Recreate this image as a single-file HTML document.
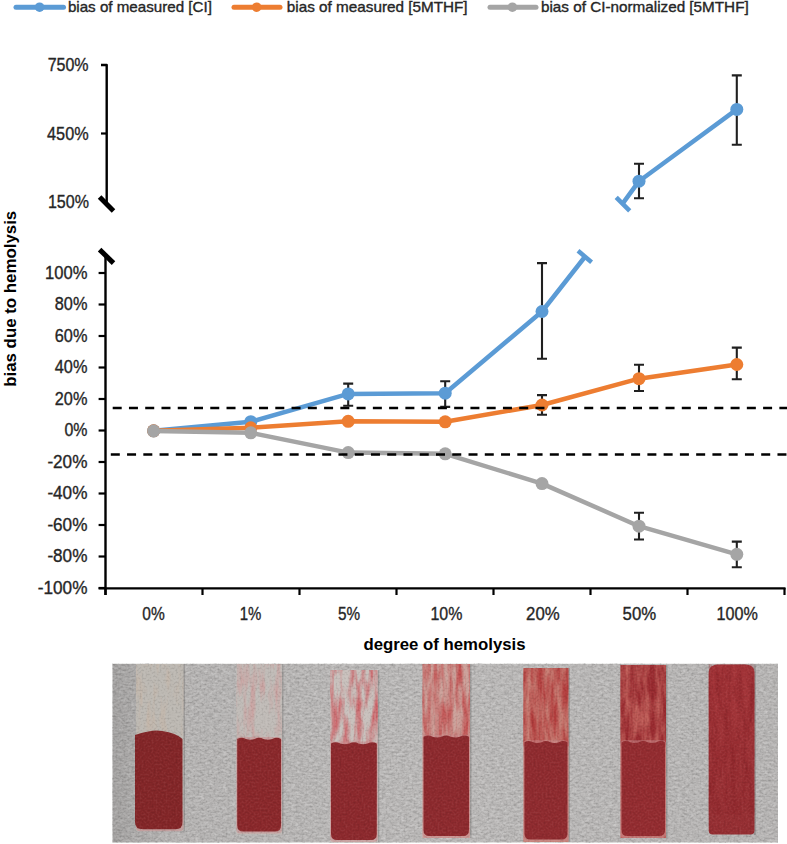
<!DOCTYPE html>
<html><head><meta charset="utf-8"><style>
html,body{margin:0;padding:0;background:#fff;}
svg{display:block;font-family:"Liberation Sans",sans-serif;}
</style></head><body>
<svg width="787" height="844" viewBox="0 0 787 844">
<rect width="787" height="844" fill="#fff"/>
<defs><filter color-interpolation-filters="sRGB" id="tex1" x="0" y="0" width="100%" height="100%"><feTurbulence type="fractalNoise" baseFrequency="0.22 0.45" numOctaves="3" seed="7"/><feColorMatrix type="matrix" values="0 0 0 0 1  0 0 0 0 1  0 0 0 0 1  2.2 0 0 0 -1.0"/></filter><filter color-interpolation-filters="sRGB" id="tex2" x="0" y="0" width="100%" height="100%"><feTurbulence type="fractalNoise" baseFrequency="0.22 0.45" numOctaves="3" seed="7"/><feColorMatrix type="matrix" values="0 0 0 0 0.3  0 0 0 0 0.3  0 0 0 0 0.3  -2.2 0 0 0 1.0"/></filter><filter color-interpolation-filters="sRGB" id="grain1" x="0" y="0" width="100%" height="100%"><feTurbulence type="fractalNoise" baseFrequency="0.5" numOctaves="2" seed="11"/><feColorMatrix type="matrix" values="0 0 0 0 1  0 0 0 0 1  0 0 0 0 1  2.5 0 0 0 -1.2"/></filter><filter color-interpolation-filters="sRGB" id="grain2" x="0" y="0" width="100%" height="100%"><feTurbulence type="fractalNoise" baseFrequency="0.5" numOctaves="2" seed="11"/><feColorMatrix type="matrix" values="0 0 0 0 0  0 0 0 0 0  0 0 0 0 0  -2.5 0 0 0 1.3"/></filter><filter color-interpolation-filters="sRGB" id="soft"><feGaussianBlur stdDeviation="0.7"/></filter><linearGradient id="g7" x1="0" y1="0" x2="0" y2="1"><stop offset="0" stop-color="#a8383c"/><stop offset="1" stop-color="#952f33"/></linearGradient><linearGradient id="vign" x1="0" y1="0" x2="1" y2="0"><stop offset="0" stop-color="#000" stop-opacity="0.12"/><stop offset="0.08" stop-color="#000" stop-opacity="0.03"/><stop offset="0.5" stop-color="#000" stop-opacity="0"/><stop offset="1" stop-color="#000" stop-opacity="0.02"/></linearGradient>
<filter color-interpolation-filters="sRGB" id="v0" x="0" y="0" width="100%" height="100%"><feTurbulence type="fractalNoise" baseFrequency="0.16 0.03" numOctaves="3" seed="1"/><feColorMatrix type="matrix" values="0 0 0 0 0.8  0 0 0 0 0.7  0 0 0 0 0.62  1.2 0 0 0 -0.55"/><feComposite in2="SourceGraphic" operator="in"/></filter>
<filter color-interpolation-filters="sRGB" id="v1" x="0" y="0" width="100%" height="100%"><feTurbulence type="fractalNoise" baseFrequency="0.16 0.03" numOctaves="3" seed="6"/><feColorMatrix type="matrix" values="0 0 0 0 0.82  0 0 0 0 0.56  0 0 0 0 0.56  1.6 0 0 0 -0.7"/><feComposite in2="SourceGraphic" operator="in"/></filter>
<filter color-interpolation-filters="sRGB" id="v2" x="0" y="0" width="100%" height="100%"><feTurbulence type="fractalNoise" baseFrequency="0.16 0.03" numOctaves="3" seed="11"/><feColorMatrix type="matrix" values="0 0 0 0 0.8  0 0 0 0 0.38  0 0 0 0 0.4  2.2 0 0 0 -0.8"/><feComposite in2="SourceGraphic" operator="in"/></filter>
<filter color-interpolation-filters="sRGB" id="v3" x="0" y="0" width="100%" height="100%"><feTurbulence type="fractalNoise" baseFrequency="0.16 0.03" numOctaves="3" seed="16"/><feColorMatrix type="matrix" values="0 0 0 0 0.76  0 0 0 0 0.32  0 0 0 0 0.32  2.2 0 0 0 -0.7"/><feComposite in2="SourceGraphic" operator="in"/></filter>
<filter color-interpolation-filters="sRGB" id="v4" x="0" y="0" width="100%" height="100%"><feTurbulence type="fractalNoise" baseFrequency="0.16 0.03" numOctaves="3" seed="21"/><feColorMatrix type="matrix" values="0 0 0 0 0.7  0 0 0 0 0.24  0 0 0 0 0.24  2.2 0 0 0 -0.6"/><feComposite in2="SourceGraphic" operator="in"/></filter>
<filter color-interpolation-filters="sRGB" id="v5" x="0" y="0" width="100%" height="100%"><feTurbulence type="fractalNoise" baseFrequency="0.16 0.03" numOctaves="3" seed="26"/><feColorMatrix type="matrix" values="0 0 0 0 0.6  0 0 0 0 0.17  0 0 0 0 0.19  2.2 0 0 0 -0.5"/><feComposite in2="SourceGraphic" operator="in"/></filter>
<filter color-interpolation-filters="sRGB" id="v6" x="0" y="0" width="100%" height="100%"><feTurbulence type="fractalNoise" baseFrequency="0.16 0.03" numOctaves="3" seed="31"/><feColorMatrix type="matrix" values="0 0 0 0 0.55  0 0 0 0 0.14  0 0 0 0 0.16  1.6 0 0 0 -0.55"/><feComposite in2="SourceGraphic" operator="in"/></filter>
</defs>
<rect x="112.5" y="663.8" width="665.5" height="178.70000000000005" fill="#b9b7b6"/>
<rect x="112.5" y="663.8" width="665.5" height="178.70000000000005" filter="url(#tex1)" opacity="0.3"/>
<rect x="112.5" y="663.8" width="665.5" height="178.70000000000005" filter="url(#tex2)" opacity="0.25"/>
<rect x="112.5" y="663.8" width="665.5" height="178.70000000000005" fill="url(#vign)"/>
<g filter="url(#soft)">
<rect x="183.0" y="664" width="2" height="167" fill="#7f7d7b" opacity="0.5"/>
<rect x="136" y="664" width="47.5" height="167" fill="#bdb9b3"/>
<rect x="136" y="664" width="47.5" height="72" filter="url(#v0)"/>
<rect x="136" y="809.2" width="47.5" height="22" rx="4" fill="#c98a8c" opacity="0.55"/>
<path d="M135,735 Q152.625,729 162.125,731 Q176.375,733 182.5,739 V822.2 Q182.5,829.2 175.5,829.2 H143 Q135,829.2 135,822.2 Z" fill="#842729"/>
<rect x="281.5" y="664" width="2" height="170.5" fill="#7f7d7b" opacity="0.5"/>
<rect x="236.2" y="664" width="45.80000000000001" height="170.5" fill="#c1bcb8"/>
<rect x="236.2" y="664" width="45.80000000000001" height="79" filter="url(#v1)"/>
<rect x="236.2" y="737" width="45.80000000000001" height="96.60000000000002" rx="4" fill="#c98a8c" opacity="0.55"/>
<path d="M237.2,739 Q241.6,736.5 246.0,739 Q250.3,740.5 254.7,739 Q259.1,736.5 263.5,739 Q267.9,740.5 272.2,739 Q276.6,736.5 281.0,739 V825.6 Q281.0,831.6 275.0,831.6 H243.2 Q237.2,831.6 237.2,825.6 Z" fill="#8b292c"/>
<rect x="377.3" y="670" width="2" height="172.5" fill="#7f7d7b" opacity="0.5"/>
<rect x="330" y="670" width="47.80000000000001" height="172.5" fill="#c9c1bd"/>
<rect x="330" y="670" width="47.80000000000001" height="77.39999999999998" filter="url(#v2)"/>
<rect x="330" y="741.4" width="47.80000000000001" height="100.60000000000002" rx="4" fill="#c98a8c" opacity="0.55"/>
<path d="M331,743.4 Q335.6,740.9 340.2,743.4 Q344.7,744.9 349.3,743.4 Q353.9,740.9 358.5,743.4 Q363.1,744.9 367.6,743.4 Q372.2,740.9 376.8,743.4 V834 Q376.8,840 370.8,840 H337 Q331,840 331,834 Z" fill="#8d2a2e"/>
<rect x="469.5" y="664" width="2" height="174" fill="#7f7d7b" opacity="0.5"/>
<rect x="422.5" y="664" width="47.5" height="174" fill="#cca29b"/>
<rect x="422.5" y="664" width="47.5" height="76.79999999999995" filter="url(#v3)"/>
<rect x="422.5" y="734.8" width="47.5" height="103.20000000000005" rx="4" fill="#c98a8c" opacity="0.55"/>
<path d="M423.5,736.8 Q428.1,734.3 432.6,736.8 Q437.1,738.3 441.7,736.8 Q446.2,734.3 450.8,736.8 Q455.4,738.3 459.9,736.8 Q464.4,734.3 469.0,736.8 V830 Q469.0,836 463.0,836 H429.5 Q423.5,836 423.5,830 Z" fill="#8e2b2f"/>
<rect x="568.0" y="668" width="2" height="174" fill="#7f7d7b" opacity="0.5"/>
<rect x="523.4" y="668" width="45.10000000000002" height="174" fill="#c88076"/>
<rect x="523.4" y="668" width="45.10000000000002" height="78.20000000000005" filter="url(#v4)"/>
<rect x="523.4" y="740.2" width="45.10000000000002" height="101.39999999999998" rx="4" fill="#c98a8c" opacity="0.55"/>
<path d="M524.4,742.2 Q528.7,739.7 533.0,742.2 Q537.3,743.7 541.6,742.2 Q546.0,739.7 550.3,742.2 Q554.6,743.7 558.9,742.2 Q563.2,739.7 567.5,742.2 V833.6 Q567.5,839.6 561.5,839.6 H530.4 Q524.4,839.6 524.4,833.6 Z" fill="#902c30"/>
<rect x="665.5" y="665" width="2" height="173" fill="#7f7d7b" opacity="0.5"/>
<rect x="620.5" y="665" width="45.5" height="173" fill="#c2625c"/>
<rect x="620.5" y="665" width="45.5" height="81.20000000000005" filter="url(#v5)"/>
<rect x="620.5" y="740.2" width="45.5" height="97.79999999999995" rx="4" fill="#c98a8c" opacity="0.55"/>
<path d="M621.5,742.2 Q625.9,739.7 630.2,742.2 Q634.5,743.7 638.9,742.2 Q643.2,739.7 647.6,742.2 Q652.0,743.7 656.3,742.2 Q660.6,739.7 665.0,742.2 V830 Q665.0,836 659.0,836 H627.5 Q621.5,836 621.5,830 Z" fill="#942d31"/>
<rect x="754.0" y="664.4" width="2" height="170.60000000000002" fill="#7f7d7b" opacity="0.5"/>
<path d="M708.7,672.4 Q708.7,664.4 718.7,664.4 H744.5 Q754.5,664.4 754.5,672.4 V830.4 Q754.5,834.4 750.5,834.4 H712.7 Q708.7,834.4 708.7,830.4 Z" fill="url(#g7)"/>
<rect x="708.7" y="664.4" width="45.799999999999955" height="150.0" filter="url(#v6)"/>
</g>
<rect x="112.5" y="663.8" width="665.5" height="178.70000000000005" filter="url(#grain1)" opacity="0.07"/>
<rect x="112.5" y="663.8" width="665.5" height="178.70000000000005" filter="url(#grain2)" opacity="0.12"/>
<line x1="16" y1="7.2" x2="63.5" y2="7.2" stroke="#5B9BD5" stroke-width="5" stroke-linecap="round"/>
<circle cx="39.6" cy="7.2" r="4.8" fill="#5B9BD5"/>
<text x="67.9" y="12" font-size="14.2" fill="#262626" stroke="#262626" stroke-width="0.35" textLength="144.0" lengthAdjust="spacingAndGlyphs">bias of measured [CI]</text>
<line x1="234" y1="7.2" x2="280" y2="7.2" stroke="#ED7D31" stroke-width="5" stroke-linecap="round"/>
<circle cx="256.7" cy="7.2" r="4.8" fill="#ED7D31"/>
<text x="286.8" y="12" font-size="14.2" fill="#262626" stroke="#262626" stroke-width="0.35" textLength="180.8" lengthAdjust="spacingAndGlyphs">bias of measured [5MTHF]</text>
<line x1="490" y1="7.2" x2="536" y2="7.2" stroke="#A5A5A5" stroke-width="5" stroke-linecap="round"/>
<circle cx="512.4" cy="7.2" r="4.8" fill="#A5A5A5"/>
<text x="541" y="12" font-size="14.2" fill="#262626" stroke="#262626" stroke-width="0.35" textLength="207.70000000000005" lengthAdjust="spacingAndGlyphs">bias of CI-normalized [5MTHF]</text>
<path d="M101,65 H106.7 V204" fill="none" stroke="#000" stroke-width="2.4" stroke-linejoin="round"/>
<line x1="101" y1="133.5" x2="106.7" y2="133.5" stroke="#000" stroke-width="2.2"/>
<line x1="99.6" y1="197" x2="113.5" y2="210.9" stroke="#000" stroke-width="5"/>
<line x1="99.6" y1="249.6" x2="113.5" y2="263.1" stroke="#000" stroke-width="5"/>
<text x="88.6" y="71.1" font-size="18.3" fill="#262626" stroke="#262626" stroke-width="0.35" text-anchor="end" textLength="40.9" lengthAdjust="spacingAndGlyphs">750%</text>
<text x="88.6" y="139.5" font-size="18.3" fill="#262626" stroke="#262626" stroke-width="0.35" text-anchor="end" textLength="41.5" lengthAdjust="spacingAndGlyphs">450%</text>
<text x="88.9" y="207.7" font-size="18.3" fill="#262626" stroke="#262626" stroke-width="0.35" text-anchor="end" textLength="41" lengthAdjust="spacingAndGlyphs">150%</text>
<line x1="105.5" y1="257" x2="105.5" y2="595" stroke="#000" stroke-width="2.4"/>
<line x1="98.6" y1="588.3" x2="785.5" y2="588.3" stroke="#000" stroke-width="2.2"/>
<line x1="98.6" y1="273.0" x2="105.5" y2="273.0" stroke="#000" stroke-width="2.2"/>
<text x="87.4" y="278.9" font-size="18.3" fill="#262626" stroke="#262626" stroke-width="0.35" text-anchor="end" textLength="42.4" lengthAdjust="spacingAndGlyphs">100%</text>
<line x1="98.6" y1="304.5" x2="105.5" y2="304.5" stroke="#000" stroke-width="2.2"/>
<text x="87.4" y="310.4" font-size="18.3" fill="#262626" stroke="#262626" stroke-width="0.35" text-anchor="end" textLength="32.6" lengthAdjust="spacingAndGlyphs">80%</text>
<line x1="98.6" y1="336.0" x2="105.5" y2="336.0" stroke="#000" stroke-width="2.2"/>
<text x="87.4" y="341.9" font-size="18.3" fill="#262626" stroke="#262626" stroke-width="0.35" text-anchor="end" textLength="32.6" lengthAdjust="spacingAndGlyphs">60%</text>
<line x1="98.6" y1="367.5" x2="105.5" y2="367.5" stroke="#000" stroke-width="2.2"/>
<text x="87.4" y="373.4" font-size="18.3" fill="#262626" stroke="#262626" stroke-width="0.35" text-anchor="end" textLength="32.6" lengthAdjust="spacingAndGlyphs">40%</text>
<line x1="98.6" y1="399.0" x2="105.5" y2="399.0" stroke="#000" stroke-width="2.2"/>
<text x="87.4" y="404.9" font-size="18.3" fill="#262626" stroke="#262626" stroke-width="0.35" text-anchor="end" textLength="32.6" lengthAdjust="spacingAndGlyphs">20%</text>
<line x1="98.6" y1="430.5" x2="105.5" y2="430.5" stroke="#000" stroke-width="2.2"/>
<text x="87.4" y="436.4" font-size="18.3" fill="#262626" stroke="#262626" stroke-width="0.35" text-anchor="end" textLength="23" lengthAdjust="spacingAndGlyphs">0%</text>
<line x1="98.6" y1="462.0" x2="105.5" y2="462.0" stroke="#000" stroke-width="2.2"/>
<text x="87.4" y="467.9" font-size="18.3" fill="#262626" stroke="#262626" stroke-width="0.35" text-anchor="end" textLength="40" lengthAdjust="spacingAndGlyphs">-20%</text>
<line x1="98.6" y1="493.5" x2="105.5" y2="493.5" stroke="#000" stroke-width="2.2"/>
<text x="87.4" y="499.4" font-size="18.3" fill="#262626" stroke="#262626" stroke-width="0.35" text-anchor="end" textLength="40" lengthAdjust="spacingAndGlyphs">-40%</text>
<line x1="98.6" y1="525.0" x2="105.5" y2="525.0" stroke="#000" stroke-width="2.2"/>
<text x="87.4" y="530.9" font-size="18.3" fill="#262626" stroke="#262626" stroke-width="0.35" text-anchor="end" textLength="40" lengthAdjust="spacingAndGlyphs">-60%</text>
<line x1="98.6" y1="556.5" x2="105.5" y2="556.5" stroke="#000" stroke-width="2.2"/>
<text x="87.4" y="562.4" font-size="18.3" fill="#262626" stroke="#262626" stroke-width="0.35" text-anchor="end" textLength="40" lengthAdjust="spacingAndGlyphs">-80%</text>
<line x1="98.6" y1="588.0" x2="105.5" y2="588.0" stroke="#000" stroke-width="2.2"/>
<text x="87.4" y="593.9" font-size="18.3" fill="#262626" stroke="#262626" stroke-width="0.35" text-anchor="end" textLength="49.6" lengthAdjust="spacingAndGlyphs">-100%</text>
<line x1="105.5" y1="588" x2="105.5" y2="595" stroke="#000" stroke-width="2.2"/>
<line x1="202.5" y1="588" x2="202.5" y2="595" stroke="#000" stroke-width="2.2"/>
<line x1="299.5" y1="588" x2="299.5" y2="595" stroke="#000" stroke-width="2.2"/>
<line x1="396.5" y1="588" x2="396.5" y2="595" stroke="#000" stroke-width="2.2"/>
<line x1="493.5" y1="588" x2="493.5" y2="595" stroke="#000" stroke-width="2.2"/>
<line x1="590.5" y1="588" x2="590.5" y2="595" stroke="#000" stroke-width="2.2"/>
<line x1="687.5" y1="588" x2="687.5" y2="595" stroke="#000" stroke-width="2.2"/>
<line x1="784.5" y1="588" x2="784.5" y2="595" stroke="#000" stroke-width="2.2"/>
<text x="153.5" y="619.8" font-size="18.3" fill="#262626" stroke="#262626" stroke-width="0.35" text-anchor="middle" textLength="22.4" lengthAdjust="spacingAndGlyphs">0%</text>
<text x="250.6" y="619.8" font-size="18.3" fill="#262626" stroke="#262626" stroke-width="0.35" text-anchor="middle" textLength="21.6" lengthAdjust="spacingAndGlyphs">1%</text>
<text x="349.0" y="619.8" font-size="18.3" fill="#262626" stroke="#262626" stroke-width="0.35" text-anchor="middle" textLength="22.1" lengthAdjust="spacingAndGlyphs">5%</text>
<text x="446.4" y="619.8" font-size="18.3" fill="#262626" stroke="#262626" stroke-width="0.35" text-anchor="middle" textLength="31.9" lengthAdjust="spacingAndGlyphs">10%</text>
<text x="542.9" y="619.8" font-size="18.3" fill="#262626" stroke="#262626" stroke-width="0.35" text-anchor="middle" textLength="33.6" lengthAdjust="spacingAndGlyphs">20%</text>
<text x="639.4" y="619.8" font-size="18.3" fill="#262626" stroke="#262626" stroke-width="0.35" text-anchor="middle" textLength="33.6" lengthAdjust="spacingAndGlyphs">50%</text>
<text x="737.2" y="619.8" font-size="18.3" fill="#262626" stroke="#262626" stroke-width="0.35" text-anchor="middle" textLength="41.3" lengthAdjust="spacingAndGlyphs">100%</text>
<text x="444.5" y="650.4" font-size="16.5" font-weight="bold" fill="#000" text-anchor="middle" textLength="162" lengthAdjust="spacingAndGlyphs">degree of hemolysis</text>
<text transform="translate(16.2,298.8) rotate(-90)" x="0" y="0" font-size="16.5" font-weight="bold" fill="#000" text-anchor="middle" textLength="176" lengthAdjust="spacingAndGlyphs">bias due to hemolysis</text>
<path d="M343.2,383.6 H353.2 M348.2,383.6 V405.7 M343.2,405.7 H353.2" stroke="#202020" stroke-width="2.1" fill="none"/>
<path d="M440.2,381.3 H450.2 M445.2,381.3 V406.9 M440.2,406.9 H450.2" stroke="#202020" stroke-width="2.1" fill="none"/>
<path d="M537.0,263.1 H547.0 M542.0,263.1 V358.7 M537.0,358.7 H547.0" stroke="#202020" stroke-width="2.1" fill="none"/>
<path d="M153.6,430.8 L250.8,421.7 L348.2,393.9 L445.2,393.2 L542.0,311.5 L584.8,257.0" fill="none" stroke="#5B9BD5" stroke-width="4.5" stroke-linejoin="round"/>
<circle cx="153.6" cy="430.8" r="6.5" fill="#5B9BD5"/>
<circle cx="250.8" cy="421.7" r="6.5" fill="#5B9BD5"/>
<circle cx="348.2" cy="393.9" r="6.5" fill="#5B9BD5"/>
<circle cx="445.2" cy="393.2" r="6.5" fill="#5B9BD5"/>
<circle cx="542.0" cy="311.5" r="6.5" fill="#5B9BD5"/>
<line x1="578" y1="250.8" x2="591.6" y2="262.2" stroke="#5B9BD5" stroke-width="4.5"/>
<path d="M537.0,395.1 H547.0 M542.0,395.1 V414.8 M537.0,414.8 H547.0" stroke="#202020" stroke-width="2.1" fill="none"/>
<path d="M634.0,364.8 H644.0 M639.0,364.8 V391.0 M634.0,391.0 H644.0" stroke="#202020" stroke-width="2.1" fill="none"/>
<path d="M731.8,347.6 H741.8 M736.8,347.6 V379.3 M731.8,379.3 H741.8" stroke="#202020" stroke-width="2.1" fill="none"/>
<path d="M153.6,430.8 L250.8,427.8 L348.2,421.3 L445.2,421.8 L542.0,405.0 L639.0,378.7 L736.8,364.5" fill="none" stroke="#ED7D31" stroke-width="4.5" stroke-linejoin="round"/>
<circle cx="153.6" cy="430.8" r="6.5" fill="#ED7D31"/>
<circle cx="250.8" cy="427.8" r="6.5" fill="#ED7D31"/>
<circle cx="348.2" cy="421.3" r="6.5" fill="#ED7D31"/>
<circle cx="445.2" cy="421.8" r="6.5" fill="#ED7D31"/>
<circle cx="542.0" cy="405.0" r="6.5" fill="#ED7D31"/>
<circle cx="639.0" cy="378.7" r="6.5" fill="#ED7D31"/>
<circle cx="736.8" cy="364.5" r="6.5" fill="#ED7D31"/>
<path d="M634.0,512.7 H644.0 M639.0,512.7 V539.5 M634.0,539.5 H644.0" stroke="#202020" stroke-width="2.1" fill="none"/>
<path d="M731.8,541.6 H741.8 M736.8,541.6 V567.2 M731.8,567.2 H741.8" stroke="#202020" stroke-width="2.1" fill="none"/>
<path d="M153.6,431.0 L250.8,432.8 L348.2,452.6 L445.2,453.8 L542.0,483.6 L639.0,526.2 L736.8,554.3" fill="none" stroke="#A5A5A5" stroke-width="4.5" stroke-linejoin="round"/>
<circle cx="153.6" cy="431.0" r="6.5" fill="#A5A5A5"/>
<circle cx="250.8" cy="432.8" r="6.5" fill="#A5A5A5"/>
<circle cx="348.2" cy="452.6" r="6.5" fill="#A5A5A5"/>
<circle cx="445.2" cy="453.8" r="6.5" fill="#A5A5A5"/>
<circle cx="542.0" cy="483.6" r="6.5" fill="#A5A5A5"/>
<circle cx="639.0" cy="526.2" r="6.5" fill="#A5A5A5"/>
<circle cx="736.8" cy="554.3" r="6.5" fill="#A5A5A5"/>
<path d="M634.0,163.8 H644.0 M639.0,163.8 V198.3 M634.0,198.3 H644.0" stroke="#202020" stroke-width="2.1" fill="none"/>
<path d="M731.8,75.4 H741.8 M736.8,75.4 V144.8 M731.8,144.8 H741.8" stroke="#202020" stroke-width="2.1" fill="none"/>
<path d="M622.6,203.7 L639.0,181.2 L736.8,109.4" fill="none" stroke="#5B9BD5" stroke-width="4.5" stroke-linejoin="round"/>
<circle cx="639.0" cy="181.2" r="6.5" fill="#5B9BD5"/>
<circle cx="736.8" cy="109.4" r="6.5" fill="#5B9BD5"/>
<line x1="616.2" y1="197.3" x2="629.7" y2="210.9" stroke="#5B9BD5" stroke-width="4.5"/>
<line x1="112.7" y1="408" x2="787" y2="408" stroke="#000" stroke-width="2.5" stroke-dasharray="9 7.26"/>
<line x1="110.8" y1="454.4" x2="787" y2="454.4" stroke="#000" stroke-width="2.5" stroke-dasharray="9 7.26"/>
</svg>
</body></html>
